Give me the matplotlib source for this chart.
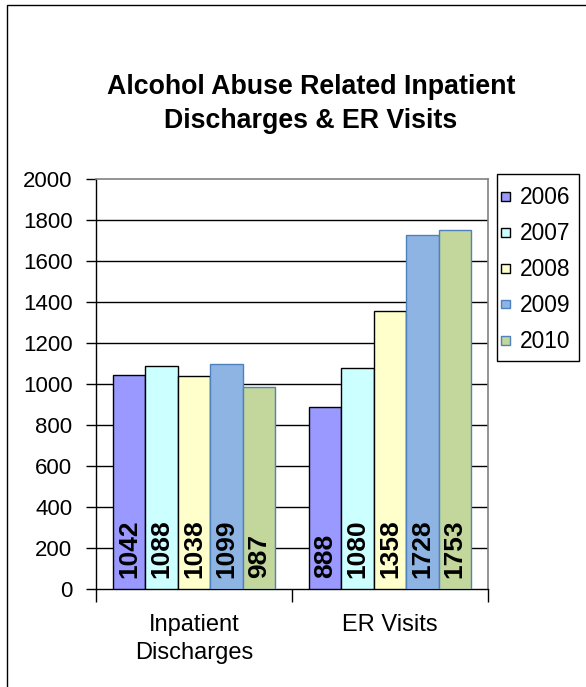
import numpy as np
import matplotlib
matplotlib.use("Agg")
import matplotlib.pyplot as plt
from matplotlib.patches import Rectangle

plt.rcParams['font.family'] = ['Liberation Sans', 'DejaVu Sans']

W, H = 586, 687

categories = ["Inpatient\nDischarges", "ER Visits"]
years = ["2006", "2007", "2008", "2009", "2010"]
values = {
    "2006": [1042, 888],
    "2007": [1088, 1080],
    "2008": [1038, 1358],
    "2009": [1099, 1728],
    "2010": [987, 1753],
}
face_colors = ["#9999FF", "#CCFFFF", "#FFFFCC", "#8EB4E3", "#C3D69B"]
edge_colors = ["#000000", "#000000", "#000000", "#4F81BD", "#4F81BD"]
title_lines = ["Alcohol Abuse Related Inpatient", "Discharges & ER Visits"]


def fx(px):
    return px / W


def fy(py):
    return 1 - py / H


fig = plt.figure(figsize=(5.86, 6.87), dpi=100)
# outer chart frame (right and bottom edges fall outside the picture)
fig.patches.append(Rectangle((fx(7), -0.01), 1.0, fy(5) + 0.01,
                             transform=fig.transFigure, fill=False,
                             edgecolor="black", linewidth=1.0))

ax = fig.add_axes([fx(96), fy(589), 392 / W, 410 / H])

x = np.arange(len(categories))
width = 0.1653
for j, yr in enumerate(years):
    xs = x + (j - 2) * width
    ax.bar(xs, values[yr], width=width, color=face_colors[j],
           edgecolor=edge_colors[j], linewidth=1.0, zorder=3)
    for xi, v in zip(xs, values[yr]):
        ax.annotate(str(v), xy=(xi, 0), xytext=(0, 8), textcoords="offset points",
                    rotation=90, ha="center", va="bottom", fontsize=19,
                    fontweight="bold", zorder=4)

ax.set_xlim(-0.5, 1.5)
ax.set_ylim(0, 2000)
ax.set_yticks(np.arange(0, 2001, 200))
ax.tick_params(axis="y", length=7, width=1, labelsize=16, pad=10, direction="out")

ax.set_xticks([-0.5, 0.5, 1.5])
ax.set_xticklabels([])
ax.tick_params(axis="x", which="major", length=9, width=1, direction="out")
ax.set_xticks(x, minor=True)
ax.set_xticklabels(categories, minor=True, fontsize=17, linespacing=1.35)
ax.tick_params(axis="x", which="minor", length=0, pad=18)

ax.yaxis.grid(True, color="black", linewidth=1.0, zorder=0)
ax.set_axisbelow(True)
ax.yaxis.get_gridlines()[-1].set_visible(False)
ax.yaxis.get_gridlines()[0].set_visible(False)
for side in ("top", "right"):
    ax.spines[side].set_color("#808080")
    ax.spines[side].set_linewidth(1.2)
for side in ("left", "bottom"):
    ax.spines[side].set_color("black")
    ax.spines[side].set_linewidth(1.0)

# title, one line at a time
for line, base in zip(title_lines, [94, 128]):
    fig.text(fx(311), fy(base), line, ha="center", va="baseline",
             fontsize=19.3, fontweight="bold")

# legend box drawn by hand to match the original spacing
fig.patches.append(Rectangle((fx(497), fy(361)), fx(579) - fx(497), fy(174) - fy(361),
                             transform=fig.transFigure, facecolor="white",
                             edgecolor="black", linewidth=1.0))
for j, yr in enumerate(years):
    cy = 196 + 36 * j
    fig.patches.append(Rectangle((fx(501), fy(cy + 4.5)), 8.5 / W, 8.5 / H,
                                 transform=fig.transFigure, facecolor=face_colors[j],
                                 edgecolor=edge_colors[j], linewidth=1.0))
    fig.text(fx(520), fy(cy + 8), yr, ha="left", va="baseline", fontsize=16.4)

fig.savefig("out.png", dpi=100)
